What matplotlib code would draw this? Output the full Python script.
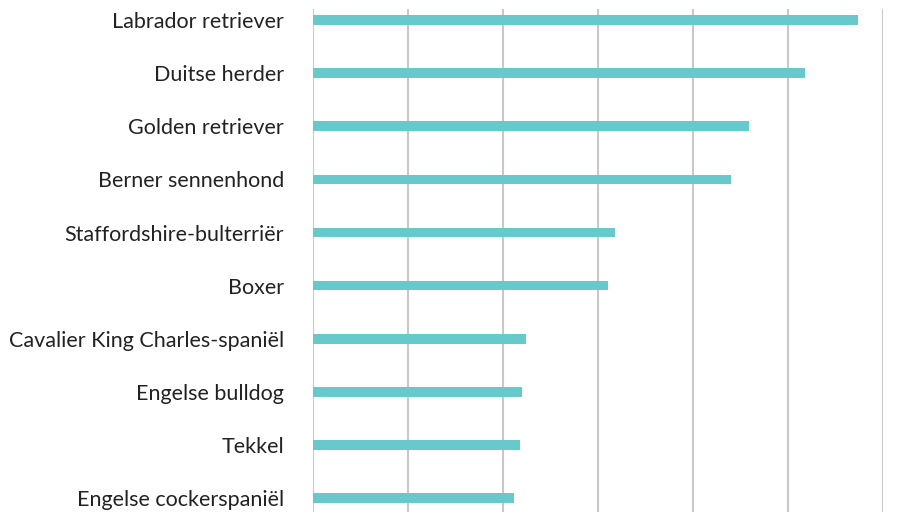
import matplotlib
matplotlib.use("Agg")
import matplotlib.pyplot as plt

breeds = ["Labrador retriever", "Duitse herder", "Golden retriever", "Berner sennenhond",
          "Staffordshire-bulterriër", "Boxer", "Cavalier King Charles-spaniël",
          "Engelse bulldog", "Tekkel", "Engelse cockerspaniël"]
values = [5.74, 5.18, 4.59, 4.40, 3.18, 3.10, 2.24, 2.20, 2.18, 2.12]
xticks = [0, 1, 2, 3, 4, 5, 6]

plt.rcParams['font.family'] = ['Lato', 'DejaVu Sans']

fig = plt.figure(figsize=(9.19, 5.12), dpi=100)
ax = fig.add_axes([313/919, 0, (883-313)/919, (512-9)/512])

y = list(range(len(breeds)))
ax.barh(y, values, height=0.18, color='#67C9CC', zorder=3)
ax.set_xlim(0, 6)
ax.set_ylim(9.26, -0.207)
ax.set_xticks(xticks)
ax.set_xticklabels([])
ax.set_yticks(y)
ax.set_yticklabels(breeds, fontsize=15.5, color='#222222')
ax.tick_params(axis='both', length=0)
ax.tick_params(axis='y', pad=21)
ax.grid(axis='x', color='#C8C8CC', linewidth=1.5, zorder=0)
for s in ax.spines.values():
    s.set_visible(False)

fig.savefig("out.png", dpi=100)
